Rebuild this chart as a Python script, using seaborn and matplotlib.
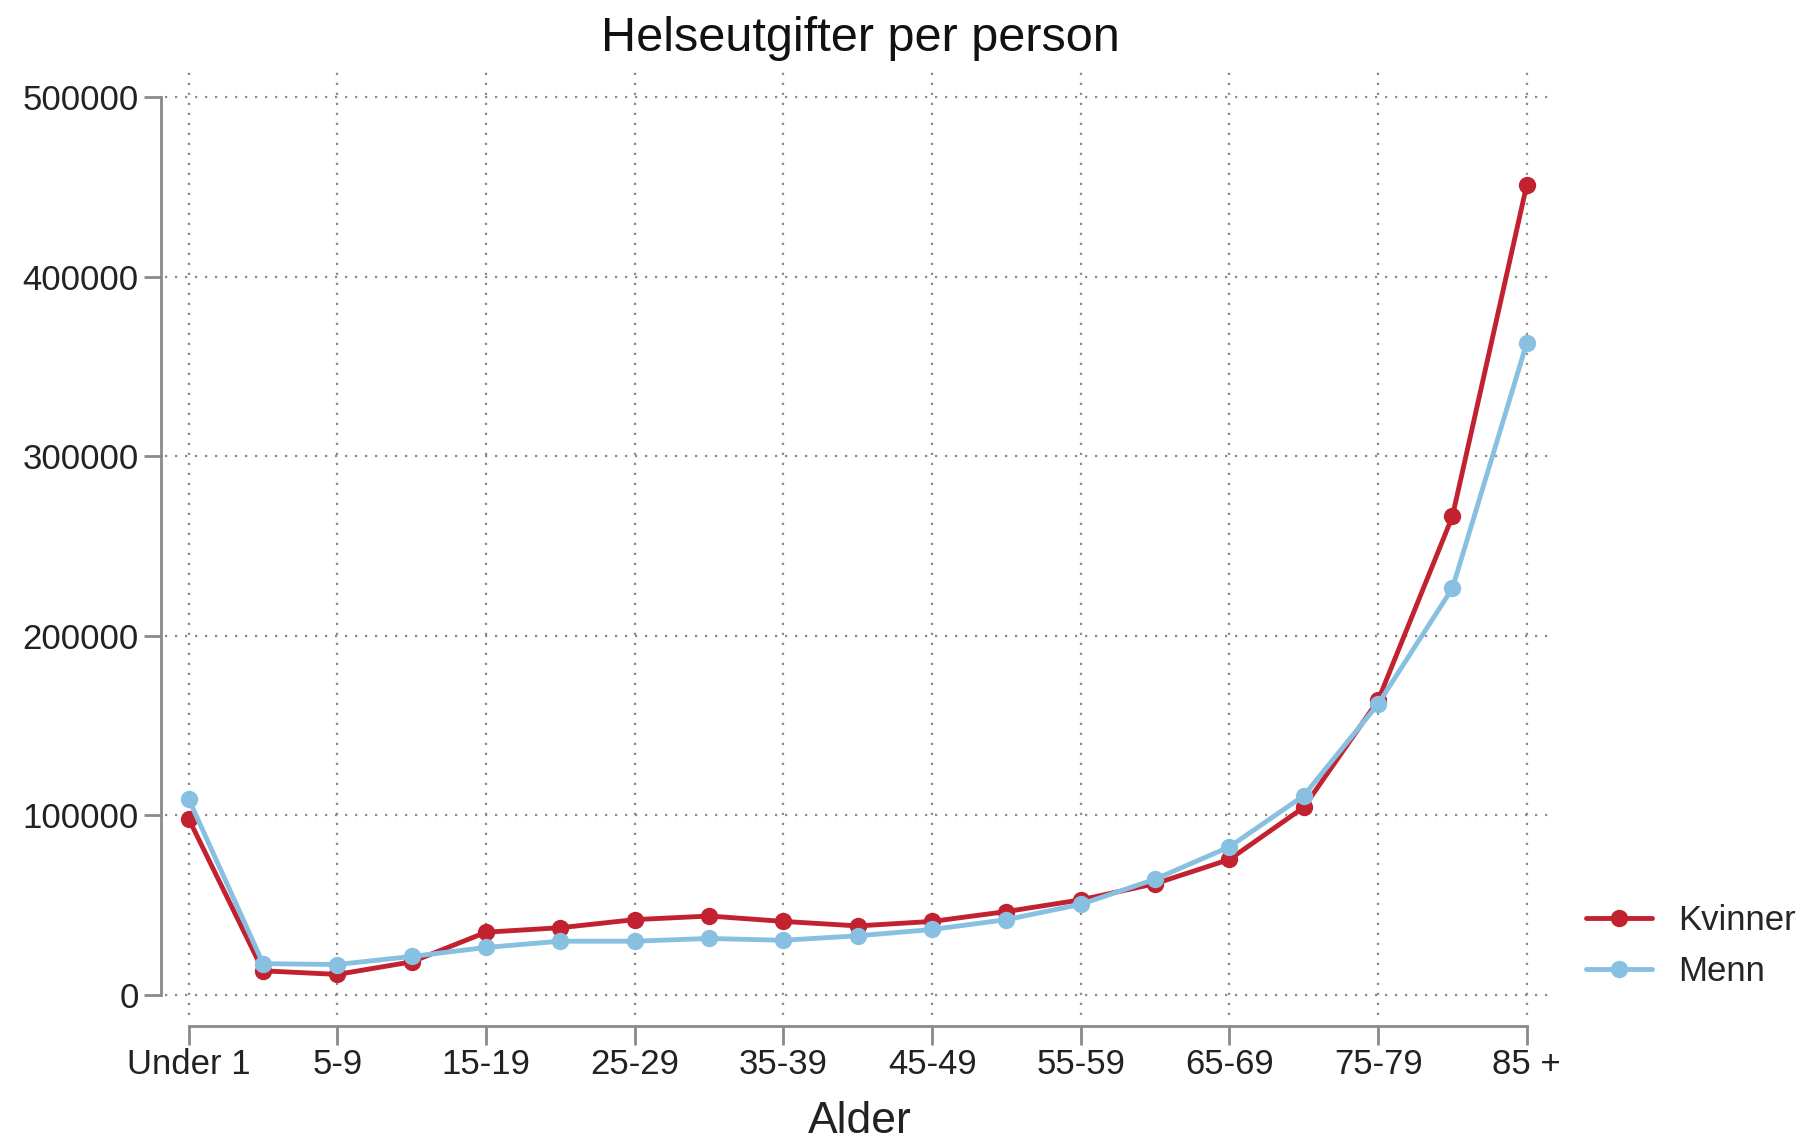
"""Helseutgifter per person etter alder og kjønn."""
import matplotlib
matplotlib.use("Agg")
import matplotlib.pyplot as plt
import numpy as np
import pandas as pd
import seaborn as sns

AGE_GROUPS = ["Under 1", "1-4", "5-9", "10-14", "15-19", "20-24", "25-29", "30-34",
              "35-39", "40-44", "45-49", "50-54", "55-59", "60-64", "65-69", "70-74",
              "75-79", "80-84", "85 +"]
KVINNER = [98000, 13500, 11500, 18500, 35000, 37500, 42000, 44000, 41000, 38500,
           41000, 46500, 53000, 62000, 75500, 104500, 164000, 266500, 451000]
MENN = [109000, 17500, 17000, 21500, 26500, 30000, 30000, 31500, 30500, 33000,
        36500, 42000, 50500, 64500, 82500, 111000, 162000, 226500, 363000]
SERIES = ["Kvinner", "Menn"]
COLORS = {"Kvinner": "#c22230", "Menn": "#88c0e2"}
Y_TICKS = [0, 100000, 200000, 300000, 400000, 500000]

df = pd.DataFrame({
    "pos": np.tile(np.arange(len(AGE_GROUPS)), 2),
    "value": KVINNER + MENN,
    "kjonn": np.repeat(SERIES, len(AGE_GROUPS)),
})

sns.set_theme(style="white")
plt.rcParams["font.family"] = ["Liberation Sans", "DejaVu Sans"]

fig = plt.figure(figsize=(18.19, 11.42), dpi=100)
ax = fig.add_axes([165 / 1819, 1 - 1015 / 1142, (1555 - 165) / 1819, (1015 - 70) / 1142])

sns.lineplot(data=df, x="pos", y="value", hue="kjonn", hue_order=SERIES,
             palette=COLORS, marker="o", markersize=12.5, markeredgewidth=0,
             linewidth=3.5, ax=ax)

ax.set_xlim(-0.32, 18.38)
ax.set_ylim(-11100, 515000)
label_pos = np.arange(0, len(AGE_GROUPS), 2)
ax.set_xticks(label_pos)
ax.set_xticklabels([AGE_GROUPS[i] for i in label_pos])
ax.set_yticks(Y_TICKS)
ax.set_yticklabels([str(v) for v in Y_TICKS])

ax.grid(True, linestyle=(0, (1, 3.5)), linewidth=1.6, color="#8a8a8a")
for side in ["top", "right"]:
    ax.spines[side].set_visible(False)
ax.spines["left"].set_position(("outward", 3))
ax.spines["left"].set_bounds(0, 500000)
ax.spines["bottom"].set_position(("outward", 8))
ax.spines["bottom"].set_bounds(0, 18)
for side in ["left", "bottom"]:
    ax.spines[side].set_color("#8a8a8a")
    ax.spines[side].set_linewidth(2)
ax.tick_params(axis="y", length=12, width=2, color="#8a8a8a", pad=4, left=True,
               labelsize=25, labelcolor="#222222")
ax.tick_params(axis="x", length=14, width=2, color="#8a8a8a", pad=2, bottom=True,
               labelsize=25, labelcolor="#222222")

ax.set_xlabel("Alder", fontsize=32, color="#222222", labelpad=14)
ax.set_ylabel("")
ax.set_title("Helseutgifter per person", fontsize=35, color="#111111", pad=14)

ax.legend(loc="center left", bbox_to_anchor=(1.0, 0.073), frameon=False,
          fontsize=25, handlelength=1.9, labelspacing=0.5, handletextpad=0.75)

fig.savefig("out.png", dpi=100)
plt.close(fig)
